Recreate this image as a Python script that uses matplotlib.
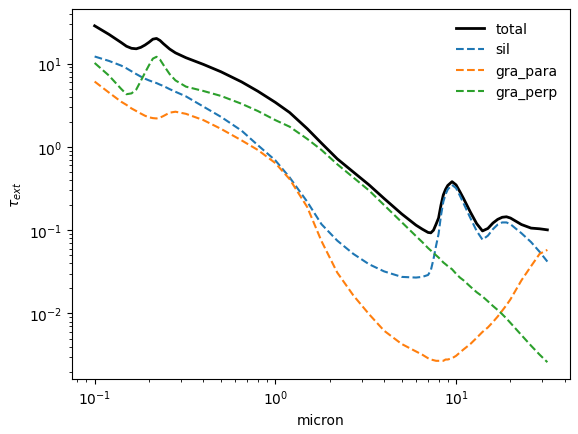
import matplotlib
matplotlib.use("Agg")
import matplotlib.pyplot as plt

# wavelength grid (micron)
wave = [0.10, 0.12, 0.14, 0.15, 0.16, 0.17, 0.18, 0.19, 0.20, 0.21, 0.22, 0.23,
        0.24, 0.26, 0.28, 0.32, 0.40, 0.50, 0.65, 0.80, 1.0, 1.2, 1.5, 1.8,
        2.2, 2.7, 3.3, 4.0, 5.0, 6.0, 6.5, 7.0, 7.25, 7.5, 7.75, 8.0, 8.25,
        8.5, 8.75, 9.0, 9.5, 10.0, 10.5, 11.0, 12.0, 13.0, 14.0, 15.0, 16.0,
        17.0, 18.0, 19.0, 20.0, 23.0, 26.0, 29.0, 32.0]

sil = [12.2, 10.8, 9.5, 8.8, 8.1, 7.5, 7.0, 6.6, 6.3, 6.05, 5.85, 5.6,
       5.4, 4.95, 4.6, 4.05, 3.05, 2.3, 1.57, 1.05, 0.69, 0.43, 0.22, 0.118,
       0.075, 0.052, 0.039, 0.032, 0.0275, 0.027, 0.0275, 0.029, 0.033, 0.045, 0.065, 0.09, 0.15,
       0.22, 0.27, 0.31, 0.35, 0.32, 0.26, 0.21, 0.14, 0.098, 0.077, 0.086, 0.103,
       0.117, 0.124, 0.124, 0.118, 0.092, 0.072, 0.055, 0.042]

gra_para = [6.1, 4.5, 3.5, 3.2, 2.9, 2.7, 2.52, 2.37, 2.27, 2.22, 2.2, 2.25,
            2.35, 2.58, 2.65, 2.5, 2.1, 1.65, 1.2, 0.92, 0.64, 0.41, 0.19, 0.074,
            0.031, 0.0165, 0.0098, 0.0062, 0.0043, 0.0035, 0.0032, 0.0029, 0.0028, 0.00275, 0.0027, 0.0027, 0.0027,
            0.0027, 0.0028, 0.0028, 0.0029, 0.0031, 0.0034, 0.0037, 0.0043, 0.0051, 0.006, 0.0068, 0.0079,
            0.0092, 0.0108, 0.0126, 0.0148, 0.025, 0.037, 0.052, 0.058]

gra_perp = [10.2, 7.2, 5.0, 4.3, 4.4, 4.9, 6.2, 7.8, 9.6, 11.5, 12.1, 11.2,
            9.7, 7.5, 6.3, 5.3, 4.7, 4.1, 3.3, 2.7, 2.1, 1.75, 1.25, 0.92,
            0.62, 0.43, 0.30, 0.20, 0.125, 0.085, 0.072, 0.061, 0.057, 0.053, 0.050, 0.047, 0.044,
            0.041, 0.039, 0.037, 0.034, 0.030, 0.027, 0.025, 0.021, 0.018, 0.016, 0.014, 0.0123,
            0.011, 0.0098, 0.0087, 0.0077, 0.0055, 0.0041, 0.0032, 0.0026]

total = [28.5, 22.5, 18.0, 16.2, 15.3, 15.1, 15.7, 16.75, 18.1, 19.7, 20.1, 19.0,
         17.4, 15.0, 13.5, 11.8, 9.8, 8.0, 6.05, 4.67, 3.43, 2.59, 1.66, 1.11,
         0.72, 0.50, 0.35, 0.24, 0.157, 0.115, 0.103, 0.094, 0.093, 0.10, 0.118, 0.14, 0.2,
         0.265, 0.31, 0.345, 0.383, 0.35, 0.29, 0.24, 0.165, 0.12, 0.098, 0.105, 0.122,
         0.135, 0.143, 0.145, 0.14, 0.117, 0.106, 0.104, 0.101]

fig = plt.figure(figsize=(5.78, 4.35), dpi=100)
ax = fig.add_axes([72/578, 1-380/435, (570-72)/578, (380-10)/435])

ax.loglog(wave, total, color="black", lw=2, label="total")
ax.loglog(wave, sil, "--", color="C0", label="sil")
ax.loglog(wave, gra_para, "--", color="C1", label="gra_para")
ax.loglog(wave, gra_perp, "--", color="C2", label="gra_perp")

ax.set_xlabel("micron")
ax.set_ylabel(r"$\tau_{ext}$")
ax.legend(frameon=False, loc="upper right")

fig.savefig("out.png", dpi=100)
